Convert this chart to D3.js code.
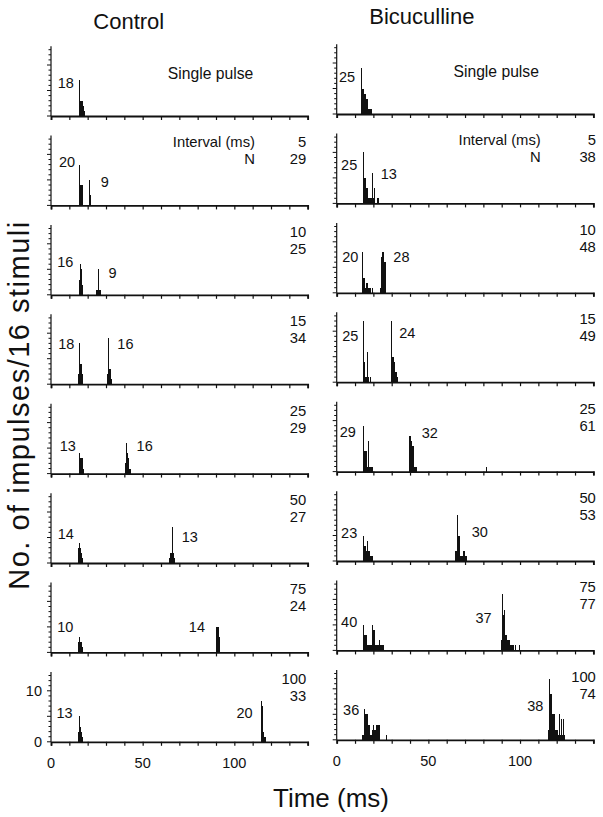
<!DOCTYPE html>
<html><head><meta charset="utf-8">
<script src="https://cdn.jsdelivr.net/npm/d3@7"></script>
<style>
body{margin:0;background:#fff}
svg{display:block}
text{font-family:"Liberation Sans",Arial,Helvetica,sans-serif;fill:#111}
</style>
</head><body>
<svg id="c" width="603" height="817"></svg>
<script>
// ---------- DATA ----------
const binWidth = 0.5; // ms per histogram bin
const intervals = ["Single pulse", "5", "10", "15", "25", "50", "75", "100"];
const controlN = ["", "29", "25", "34", "29", "27", "24", "33"];
const bicucullineN = ["", "38", "48", "49", "61", "53", "77", "74"];

// each cluster: [start time (ms), counts per 0.5-ms bin]
const controlHist = [
  [[15.5, [7, 3, 3, 3, 2, 1]]],
  [[15.5, [8, 4, 4, 4]], [20.5, [5, 2, 2]]],
  [[15.5, [3, 6, 5, 2]], [24.5, [1, 1, 5, 1, 1, 1]]],
  [[15, [2, 8, 4, 4, 2]], [30.5, [2, 9, 3, 3, 1]]],
  [[15.5, [4, 3, 3, 3, 1]], [40.5, [2, 6, 4, 3, 1, 1]]],
  [[14.5, [1, 3, 4, 3, 2, 1]], [64.5, [1, 2, 2, 7, 2, 1]]],
  [[15, [2, 3, 2, 2, 1]], [90, [5, 5, 5, 3]]],
  [[15, [2, 5, 3, 2, 1]], [114.5, [8, 7, 2, 1, 1, 1]]]
];
const bicucullineHist = [
  [[13.5, [9, 5, 5, 4, 4, 3, 3, 1, 1, 1, 1]]],
  [[14.5, [10, 5, 5, 3, 3, 1, 1, 1, 1, 6, 1, 1, 3, 0, 0, 1, 1]]],
  [[14, [8, 3, 3, 1, 2, 2, 1, 1, 1, 0, 0, 1]], [23.5, [1, 7, 8, 7, 8, 6, 6]]],
  [[14.5, [12, 4, 1, 1, 6, 1, 0, 1]], [29.5, [12, 5, 5, 4, 4, 2, 2, 1]]],
  [[14.5, [9, 4, 4, 4, 1, 6, 1, 1, 1, 1]], [39.5, [7, 7, 6, 5, 5, 1, 1, 1]], [81.5, [1]]],
  [[14.5, [5, 3, 3, 2, 4, 2, 2, 1, 1, 1]], [64.5, [2, 2, 9, 5, 5, 1, 1, 1, 1, 2, 2, 1, 1]]],
  [[14.5, [5, 3, 3, 3, 1, 1, 1, 1, 1, 5, 4, 4, 4, 1, 1, 1, 1, 2, 1, 1, 1, 1]],
   [89.5, [2, 11, 7, 4, 8, 3, 3, 2, 2, 2, 1, 1, 1, 1, 0, 1, 0, 0, 0, 0, 1]]],
  [[14, [1, 1, 6, 5, 5, 5, 3, 3, 1, 1, 1, 2, 3, 2, 2, 3, 3, 3, 3]], [27, [1]],
   [115.5, [2, 12, 9, 9, 5, 5, 5, 2, 2, 2, 1, 1, 5, 1, 4, 1, 4, 1]]]
];

// peak annotations: [text, time (ms), count level, anchor]
const controlPeakLabels = [
  [["18", 12.5, 6.4, "end"]],
  [["20", 13.1, 8.5, "end"], ["9", 27.1, 4.6, "start"]],
  [["16", 12.2, 6.5, "end"], ["9", 31.3, 4.3, "start"]],
  [["18", 12.7, 7.9, "end"], ["16", 36.2, 7.9, "start"]],
  [["13", 13.6, 5.4, "end"], ["16", 46.7, 5.4, "start"]],
  [["14", 12.5, 5.7, "end"], ["13", 71.3, 5.1, "start"]],
  [["10", 12.2, 5.0, "end"], ["14", 84.0, 5.0, "end"]],
  [["13", 11.8, 5.7, "end"], ["20", 110.0, 5.7, "end"]]
];
const bicucullinePeakLabels = [
  [["25", 10.0, 7.3, "end"]],
  [["25", 11.2, 7.5, "end"], ["13", 24.0, 5.8, "start"]],
  [["20", 11.8, 7.1, "end"], ["28", 30.9, 7.1, "start"]],
  [["25", 11.8, 9.1, "end"], ["24", 34.1, 9.6, "start"]],
  [["29", 10.5, 7.8, "end"], ["32", 46.4, 7.6, "start"]],
  [["23", 11.2, 5.5, "end"], ["30", 73.6, 5.7, "start"]],
  [["40", 11.2, 5.6, "end"], ["37", 84.5, 6.3, "end"]],
  [["36", 12.3, 5.8, "end"], ["38", 112.7, 6.6, "end"]]
];
const xTickLabels = [0, 50, 100];
const yTickLabels = [0, 10];

// ---------- LAYOUT ----------
const svg = d3.select("#c");
const panelStep = 89.4;
const pxPerCount = 5.1;
const xMax = 140;
const columns = [
  {x0: 51, base0: 116, hist: controlHist, labels: controlPeakLabels, N: controlN,
   title: "Control", tx: 93.3, ty: 29.3, valDx: -1.5, yLabels: true},
  {x0: 336.7, base0: 114, hist: bicucullineHist, labels: bicucullinePeakLabels, N: bicucullineN,
   title: "Bicuculline", tx: 369.3, ty: 24, valDx: 2.5, yLabels: false}
];

columns.forEach(col => {
  const x = d3.scaleLinear().domain([0, xMax]).range([col.x0, col.x0 + xMax * 1.8333]);
  svg.append("text").attr("x", col.tx).attr("y", col.ty)
    .attr("font-size", 22).text(col.title);

  col.hist.forEach((clusters, i) => {
    const base = col.base0 + i * panelStep;
    const y = d3.scaleLinear().domain([0, 14]).range([base, base - 14 * pxPerCount]);
    const g = svg.append("g");

    // bars
    const bins = [];
    clusters.forEach(([start, counts]) => counts.forEach((c, k) => {
      if (c > 0) bins.push({t: start + k * binWidth, c});
    }));
    g.selectAll("rect").data(bins).join("rect")
      .attr("x", d => Math.round(x(d.t)))
      .attr("width", d => Math.max(1, Math.round(x(d.t + binWidth)) - Math.round(x(d.t))))
      .attr("y", d => y(d.c))
      .attr("height", d => y(0) - y(d.c))
      .attr("fill", "#111")
      .attr("shape-rendering", "crispEdges");

    // y axis
    g.append("line").attr("x1", col.x0).attr("x2", col.x0)
      .attr("y1", y(0)).attr("y2", y(13.7)).attr("stroke", "#111").attr("stroke-width", 1.2);
    g.selectAll("line.yt").data(d3.range(0, 14)).join("line").attr("class", "yt")
      .attr("x1", d => col.x0 - (d % 5 === 0 ? 4 : 2.5)).attr("x2", col.x0)
      .attr("y1", d => y(d)).attr("y2", d => y(d))
      .attr("stroke", "#111").attr("stroke-width", 1);

    // x axis
    const xa = g.append("g").attr("transform", `translate(0,${y(0)})`)
      .call(d3.axisBottom(x).tickValues(d3.range(0, xMax + 1, 10)).tickSize(4).tickFormat(""));
    xa.select(".domain").attr("stroke", "#111").attr("stroke-width", 1.8);
    xa.selectAll(".tick line").attr("stroke", "#111").attr("stroke-width", 1.2);

    if (i === col.hist.length - 1) {
      g.selectAll("text.xl").data(xTickLabels).join("text").attr("class", "xl")
        .attr("x", d => x(d)).attr("y", y(0) + 26).attr("text-anchor", "middle")
        .attr("font-size", 14.5).text(d => d);
      if (col.yLabels) {
        g.selectAll("text.yl").data(yTickLabels).join("text").attr("class", "yl")
          .attr("x", col.x0 - 9).attr("y", d => y(d) + 5).attr("text-anchor", "end")
          .attr("font-size", 14.5).text(d => d);
      }
    }

    // peak labels
    g.selectAll("text.pk").data(col.labels[i]).join("text").attr("class", "pk")
      .attr("x", d => x(d[1])).attr("y", d => y(d[2]) + 5)
      .attr("text-anchor", d => d[3]).attr("font-size", 14.5).text(d => d[0]);

    // interval / N
    if (i === 0) {
      g.append("text").attr("x", x(87)).attr("y", base - 37)
        .attr("text-anchor", "middle").attr("font-size", 15.7).text(intervals[0]);
    } else {
      const vx = x(xMax) + col.valDx;
      if (i === 1) {
        g.append("text").attr("x", x(111.3)).attr("y", base - 58)
          .attr("text-anchor", "end").attr("font-size", 14.8).text("Interval (ms)");
        g.append("text").attr("x", x(111.3)).attr("y", base - 41)
          .attr("text-anchor", "end").attr("font-size", 14.8).text("N");
      }
      g.append("text").attr("x", vx).attr("y", base - 58)
        .attr("text-anchor", "end").attr("font-size", 14.8).text(intervals[i]);
      g.append("text").attr("x", vx).attr("y", base - 41)
        .attr("text-anchor", "end").attr("font-size", 14.8).text(col.N[i]);
    }
  });
});

// axis titles
svg.append("text").attr("x", 331).attr("y", 806.5).attr("text-anchor", "middle")
  .attr("font-size", 26).text("Time (ms)");
svg.append("text").attr("transform", "translate(29,405) rotate(-90)")
  .attr("text-anchor", "middle").attr("font-size", 29).attr("letter-spacing", 1.5)
  .text("No. of impulses/16 stimuli");
</script>
</body></html>
